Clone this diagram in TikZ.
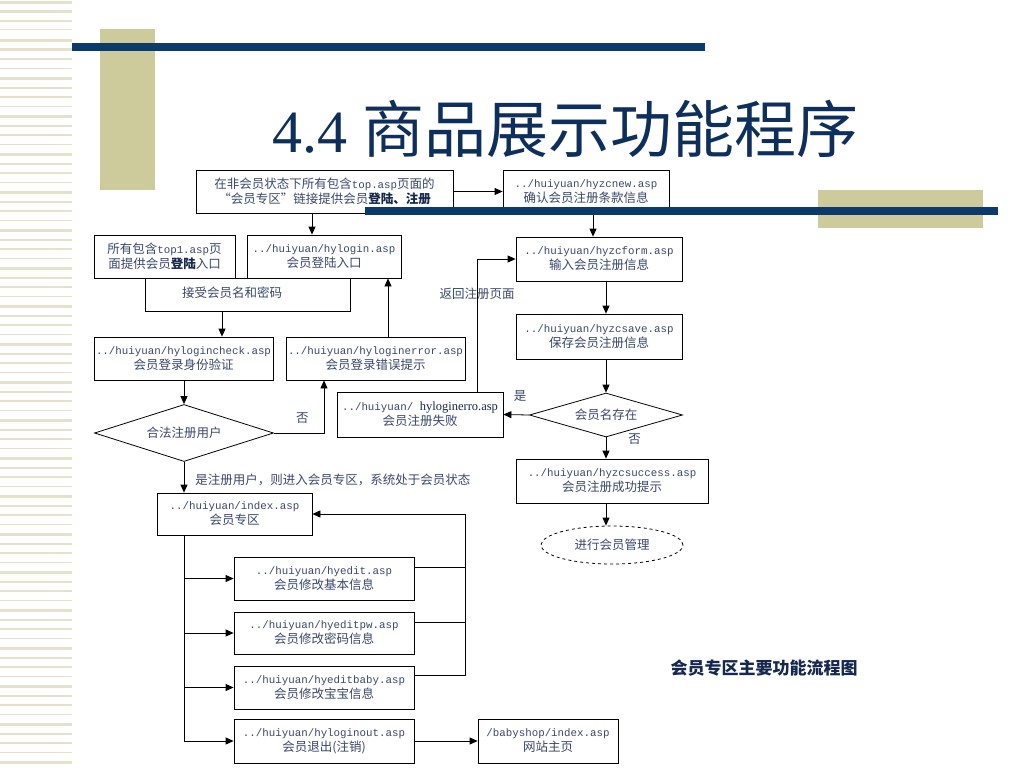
\documentclass[tikz,border=0pt]{standalone}
\usepackage{fontspec}
\usepackage{tikz}
\usetikzlibrary{shapes.geometric, arrows, arrows.meta, positioning, calc}
\setmainfont{Liberation Serif}
\newfontfamily\cjk{Noto Sans CJK SC}
\newfontfamily\mono{Liberation Mono}
\newfontfamily\enserif{Liberation Serif}
\definecolor{barblue}{RGB}{12,58,107}
\definecolor{titleblue}{RGB}{14,46,92}
\definecolor{textblue}{RGB}{58,72,104}
\definecolor{boldblue}{RGB}{22,40,78}
\definecolor{khaki}{RGB}{205,202,155}
\definecolor{stripe}{RGB}{228,226,205}
\newcommand{\asp}[1]{{\mono\fontsize{10.8}{15}\selectfont #1}}
\newcommand{\hl}[1]{{\bfseries\color{boldblue}#1}}
\tikzstyle{page} = [rectangle, draw, fill=white, text=textblue, align=center, inner sep=0pt, font=\cjk\fontsize{12.5}{15}\selectfont]
\tikzstyle{decision} = [diamond, aspect=3, draw, fill=white, text=textblue, inner sep=0pt, font=\cjk\fontsize{12.5}{15}\selectfont]
\tikzstyle{note} = [text=textblue, inner sep=0pt, font=\cjk\fontsize{12.5}{15}\selectfont]
\tikzstyle{arrow} = [->,>={Triangle[length=8pt,width=7pt]}]

\begin{document}
\begin{tikzpicture}[x=1pt, y=-1pt, line width=0.8pt]
    \useasboundingbox (0,0) rectangle (1024,768);
    % slide background
    \foreach \y [count=\i] in {1,10.5,...,768}
      \fill[stripe] (0,\y) rectangle (72,{\y+1+mod(\i*3,4)*0.8});
    \fill[khaki] (100,29) rectangle (155,190);
    \fill[barblue] (72,43) rectangle (705,51);
    \fill[khaki] (818,190) rectangle (983,228);
    \node (title) [anchor=base, text=titleblue, inner sep=0pt] at (565,152)
      {\enserif\fontsize{60}{60}\selectfont 4.4 {\cjk\fontsize{62}{62}\selectfont 商品展示功能程序}};

    % login side
    \node (top) [page, minimum width=257pt, minimum height=43pt] at (324.5,191.5)
      {在非会员状态下所有包含\asp{top.asp}页面的\\“会员专区”链接提供会员\hl{登陆、注册}};
    \node (accept) [page, minimum width=205pt, minimum height=33pt] at (247.5,294.5) {};
    \node (acceptlbl) [note] at (232,293) {接受会员名和密码};
    \node (top1) [page, minimum width=141pt, minimum height=43pt] at (164.5,256.5)
      {所有包含\asp{top1.asp}页\\面提供会员\hl{登陆}入口};
    \node (hylogin) [page, minimum width=154pt, minimum height=43pt] at (324,256.5)
      {\asp{../huiyuan/hylogin.asp}\\会员登陆入口};
    \node (hylogincheck) [page, minimum width=179pt, minimum height=43pt] at (183.5,358.5)
      {\asp{../huiyuan/hylogincheck.asp}\\会员登录身份验证};
    \node (hyloginerror) [page, minimum width=179pt, minimum height=43pt] at (375.5,358.5)
      {\asp{../huiyuan/hyloginerror.asp}\\会员登录错误提示};
    \node (legal) [decision, minimum width=179pt, minimum height=57pt] at (184,433) {合法注册用户};
    \node (index) [page, minimum width=155pt, minimum height=42pt] at (234.5,514)
      {\asp{../huiyuan/index.asp}\\会员专区};
    \node (hyedit) [page, minimum width=180pt, minimum height=43pt] at (324,578.5)
      {\asp{../huiyuan/hyedit.asp}\\会员修改基本信息};
    \node (hyeditpw) [page, minimum width=180pt, minimum height=42pt] at (324,633)
      {\asp{../huiyuan/hyeditpw.asp}\\会员修改密码信息};
    \node (hyeditbaby) [page, minimum width=180pt, minimum height=43pt] at (324,687.5)
      {\asp{../huiyuan/hyeditbaby.asp}\\会员修改宝宝信息};
    \node (hyloginout) [page, minimum width=180pt, minimum height=44pt] at (324,741)
      {\asp{../huiyuan/hyloginout.asp}\\会员退出(注销)};
    \node (babyshop) [page, minimum width=140pt, minimum height=44pt] at (548,741)
      {\asp{/babyshop/index.asp}\\网站主页};

    % register side
    \node (hyzcnew) [page, minimum width=166pt, minimum height=44pt] at (586,192)
      {\asp{../huiyuan/hyzcnew.asp}\\确认会员注册条款信息};
    \node (hyzcform) [page, minimum width=166pt, minimum height=44pt] at (599,259)
      {\asp{../huiyuan/hyzcform.asp}\\输入会员注册信息};
    \node (hyzcsave) [page, minimum width=166pt, minimum height=45pt] at (599,336.5)
      {\asp{../huiyuan/hyzcsave.asp}\\保存会员注册信息};
    \node (exist) [decision, minimum width=153pt, minimum height=44pt] at (606,415) {会员名存在};
    \node (hyloginerro) [page, minimum width=166pt, minimum height=45pt] at (420,414.5)
      {\asp{../huiyuan/ }{\enserif\fontsize{12.5}{15}\selectfont\color{boldblue}hyloginerro.asp}\\会员注册失败};
    \node (hyzcsuccess) [page, minimum width=192pt, minimum height=44pt] at (612,481)
      {\asp{../huiyuan/hyzcsuccess.asp}\\会员注册成功提示};
    \node (mgmt) [ellipse, dashed, draw, text=textblue, inner sep=0pt, minimum width=142pt, minimum height=38pt,
      font=\cjk\fontsize{12.5}{15}\selectfont] at (612,545) {进行会员管理};
    \node (caption) [text=boldblue, font=\cjk\bfseries\fontsize{17}{20}\selectfont] at (764,668) {会员专区主要功能流程图};

    % connectors
    \draw[arrow] (top.east) -- (top.east -| hyzcnew.west);
    \draw[arrow] ([xshift=-12.5pt]top.south) -- ([xshift=-12.5pt]top.south |- hylogin.north);
    \draw[arrow] ([xshift=-25.5pt]accept.south) -- ([xshift=-25.5pt]accept.south |- hylogincheck.north);
    \draw[arrow] ([xshift=12.5pt]hyloginerror.north) -- ([xshift=12.5pt]hyloginerror.north |- hylogin.south);
    \draw[arrow] (legal.north |- hylogincheck.south) -- (legal.north);
    \draw[arrow] (legal.east) -| node[note, pos=0.64, left=15pt] {否} ([xshift=-51.5pt]hyloginerror.south);
    \draw[arrow] (legal.south) -- node[note, right=11pt, anchor=west, pos=0.6] {是注册用户，则进入会员专区，系统处于会员状态} (legal.south |- index.north);
    \draw[arrow] ([xshift=7pt]hyzcnew.south) -- ([xshift=7pt]hyzcnew.south |- hyzcform.north);
    \draw[arrow] ([xshift=7pt]hyzcform.south) -- ([xshift=7pt]hyzcform.south |- hyzcsave.north);
    \draw[arrow] (exist.north |- hyzcsave.south) -- (exist.north);
    \draw[arrow] (exist.west) -- node[note, above=13pt, pos=0.35] {是} (hyloginerro.east);
    \draw[arrow] ([xshift=57pt]hyloginerro.north) |- node[note, pos=0.37] {返回注册页面} (hyzcform.west);
    \draw[arrow] (exist.south) -- node[note, right=22pt, pos=0.1] {否} (exist.south |- hyzcsuccess.north);
    \draw[arrow] (exist.south |- hyzcsuccess.south) -- (exist.south |- mgmt.north);

    % member area
    \coordinate (trunk) at (legal.south |- index.south);
    \draw[arrow] (trunk) |- (hyloginout.west);
    \draw[arrow] (trunk |- hyedit.west) -- (hyedit.west);
    \draw[arrow] (trunk |- hyeditpw.west) -- (hyeditpw.west);
    \draw[arrow] (trunk |- hyeditbaby.west) -- (hyeditbaby.west);
    \draw ([yshift=-11pt]hyedit.north east) -- ++(51pt,0);
    \draw ([yshift=-11pt]hyeditpw.north east) -- ++(51pt,0);
    \draw[arrow] ([yshift=-10pt]hyeditbaby.north east) -- ++(51pt,0) |- (index.east);
    \draw[arrow] (hyloginout.east) -- (babyshop.west);

    % bar over the boxes
    \fill[barblue] (365,207) rectangle (998,215);
\end{tikzpicture}
\end{document}
